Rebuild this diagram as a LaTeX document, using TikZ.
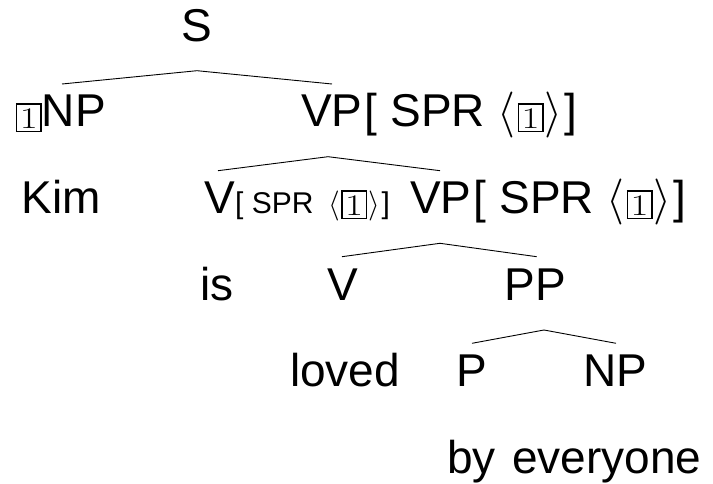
\RequirePackage{fix-cm}
\documentclass[tikz,border=0pt]{standalone}
\usepackage[no-math]{fontspec}
\setmainfont{Liberation Sans}
\usepackage{graphicx}
\usetikzlibrary{calc}
\newcommand{\tagone}{{\setlength{\fboxsep}{0pt}\setlength{\fboxrule}{1.4pt}%
  \raisebox{-1.3pt}{\fbox{\makebox[23pt][c]{\rule[-2.5pt]{0pt}{26pt}{\fontsize{30}{30}\selectfont\scalebox{1.3}[1]{$\mathrm{1}$}}}}}}}
\newcommand{\sprbig}{\kern2.6pt[ SPR $\langle$\kern2pt\tagone\kern1pt$\rangle$\kern2pt]}
\newcommand{\sprsmall}{{\fontsize{30}{32}\selectfont[ SPR\hspace{15pt}$\langle$\kern1pt\tagone\kern1pt$\rangle$\kern2pt]}}
\tikzset{
  lab/.style={anchor=base west, inner sep=0pt, outer sep=0pt, font=\fontsize{46}{50}\selectfont},
  branch/.style={line width=0.9pt, black}
}
\begin{document}
\begin{tikzpicture}[x=1pt,y=1pt]
\useasboundingbox (0,0) rectangle (713,-484);
\node[lab, anchor=base] (S) at (197,-42) {S};
\node[lab] (NP1) at (16,-127) {\tagone NP};
\node[lab] (VP1) at (301,-127) {VP\sprbig};
\node[lab] (Kim) at (21.5,-214) {Kim};
\node[lab] (V2) at (204.5,-214) {V\sprsmall};
\node[lab] (VP2) at (410,-214) {VP\sprbig};
\node[lab] (is) at (200,-300) {is};
\node[lab] (V3) at (327.5,-300) {V};
\node[lab] (PP3) at (504.5,-300) {PP};
\node[lab] (loved) at (290,-386) {loved};
\node[lab] (P4) at (456.5,-386) {P};
\node[lab] (NP4) at (583.5,-386) {NP};
\node[lab] (by) at (447,-473) {by};
\node[lab] (everyone) at (512,-473) {everyone};
% connector ends
\coordinate (S-a) at ($(S.base)+(0,-28.7)$);
\coordinate (NP1-t) at ($(NP1.base west)+(46,43)$);
\coordinate (VP1-t) at ($(VP1.base west)+(31,43)$);
\coordinate (VP1-a) at ($(VP1.base west)+(27,-29.7)$);
\coordinate (V2-t) at ($(V2.base west)+(13.5,43.3)$);
\coordinate (VP2-t) at ($(VP2.base west)+(30,43.3)$);
\coordinate (VP2-a) at ($(VP2.base west)+(30,-29.3)$);
\coordinate (V3-t) at ($(V3.base west)+(14.5,43.3)$);
\coordinate (PP3-t) at ($(PP3.base west)+(32.2,43.3)$);
\coordinate (PP3-a) at ($(PP3.base west)+(39.5,-30)$);
\coordinate (P4-t) at ($(P4.base west)+(15.5,42.7)$);
\coordinate (NP4-t) at ($(NP4.base west)+(32.5,42.7)$);
\draw[branch] (NP1-t) -- (S-a) -- (VP1-t);
\draw[branch] (V2-t) -- (VP1-a) -- (VP2-t);
\draw[branch] (V3-t) -- (VP2-a) -- (PP3-t);
\draw[branch] (P4-t) -- (PP3-a) -- (NP4-t);
\end{tikzpicture}
\end{document}
